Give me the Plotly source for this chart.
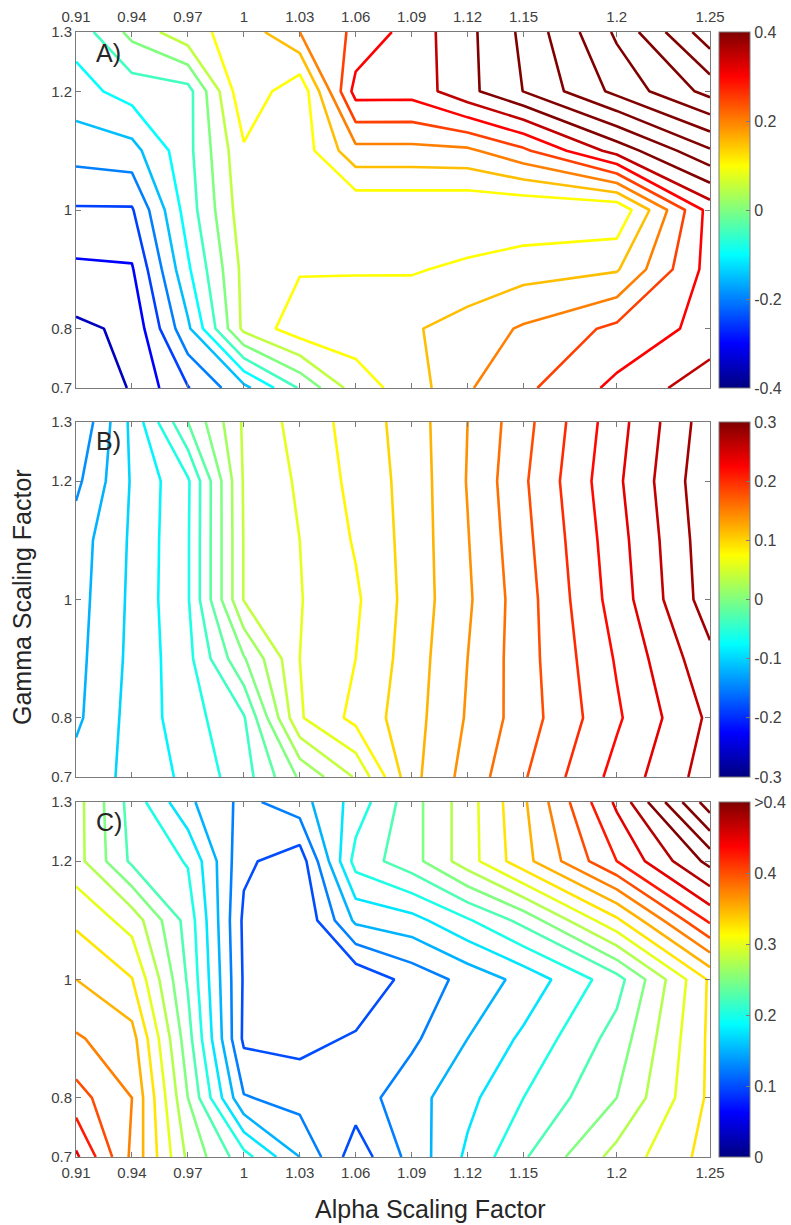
import plotly.graph_objects as go

# ---------------- data ----------------
alpha = [0.91, 0.94, 0.97, 1.00, 1.03, 1.06, 1.09, 1.12, 1.15, 1.20, 1.25]
gamma = [0.7, 0.8, 0.9, 1.0, 1.1, 1.2, 1.3]
alpha_labels = ["0.91", "0.94", "0.97", "1", "1.03", "1.06", "1.09", "1.12", "1.15", "1.2", "1.25"]
gamma_ticks = [0.7, 0.8, 1.0, 1.2, 1.3]
gamma_labels = ["0.7", "0.8", "1", "1.2", "1.3"]

# Panel A (rows = gamma 0.7 ... 1.3)
zA_g070 = [-0.40, -0.345, -0.253, -0.165, -0.045, 0.075, 0.125, 0.195, 0.239, 0.313, 0.38]
zA_g080 = [-0.36, -0.34, -0.16, 0.063, 0.128, 0.126, 0.144, 0.173, 0.206, 0.262, 0.318]
zA_g090 = [-0.31, -0.305, -0.108, 0.065, 0.096, 0.097, 0.095, 0.111, 0.130, 0.145, 0.32]
zA_g100 = [-0.255, -0.255, -0.076, 0.08, 0.075, 0.058, 0.058, 0.055, 0.055, 0.058, 0.32]
zA_g110 = [-0.18, -0.168, -0.065, 0.093, 0.07, 0.185, 0.185, 0.19, 0.24, 0.37, 0.494]
zA_g120 = [-0.12, -0.079, -0.069, 0.141, 0.06, 0.32, 0.319, 0.386, 0.451, 0.564, 0.667]
zA_g130 = [-0.08, 0.015, 0.085, 0.12, 0.2, 0.26, 0.322, 0.387, 0.461, 0.609, 0.783]

# Panel B
zB_g070 = [-0.112, -0.095, -0.075, -0.049, 0.003, 0.042, 0.114, 0.148, 0.178, 0.227, 0.27]
zB_g080 = [-0.124, -0.093, -0.069, -0.042, 0.058, 0.086, 0.112, 0.142, 0.17, 0.217, 0.264]
zB_g090 = [-0.126, -0.095, -0.066, -0.002, 0.06, 0.08, 0.11, 0.14, 0.171, 0.222, 0.275]
zB_g100 = [-0.128, -0.096, -0.062, 0.041, 0.059, 0.077, 0.108, 0.137, 0.171, 0.229, 0.291]
zB_g110 = [-0.13, -0.097, -0.062, 0.041, 0.06, 0.082, 0.108, 0.139, 0.174, 0.232, 0.293]
zB_g120 = [-0.145, -0.098, -0.063, 0.042, 0.063, 0.086, 0.108, 0.141, 0.177, 0.236, 0.296]
zB_g130 = [-0.16, -0.095, -0.02, 0.043, 0.068, 0.088, 0.11, 0.14, 0.173, 0.232, 0.292]

# Panel C
zC_g070 = [0.455, 0.37, 0.27, 0.21, 0.15, 0.085, 0.134, 0.18, 0.222, 0.284, 0.335]
zC_g080 = [0.41, 0.375, 0.25, 0.127, 0.115, 0.113, 0.14, 0.168, 0.2, 0.25, 0.33]
zC_g090 = [0.378, 0.36, 0.235, 0.095, 0.092, 0.103, 0.12, 0.15, 0.18, 0.235, 0.33]
zC_g100 = [0.35, 0.326, 0.222, 0.097, 0.085, 0.08, 0.109, 0.133, 0.158, 0.215, 0.329]
zC_g110 = [0.32, 0.29, 0.215, 0.095, 0.075, 0.155, 0.166, 0.197, 0.233, 0.32, 0.43]
zC_g120 = [0.285, 0.22, 0.198, 0.105, 0.085, 0.21, 0.24, 0.289, 0.341, 0.425, 0.508]
zC_g130 = [0.285, 0.215, 0.155, 0.118, 0.14, 0.185, 0.24, 0.289, 0.346, 0.455, 0.59]

zA = [zA_g070, zA_g080, zA_g090, zA_g100, zA_g110, zA_g120, zA_g130]
zB = [zB_g070, zB_g080, zB_g090, zB_g100, zB_g110, zB_g120, zB_g130]
zC = [zC_g070, zC_g080, zC_g090, zC_g100, zC_g110, zC_g120, zC_g130]

panel_labels = ["A)", "B)", "C)"]
cbar_ticks = [[-0.4, -0.2, 0, 0.2, 0.4], [-0.3, -0.2, -0.1, 0, 0.1, 0.2, 0.3], [0, 0.1, 0.2, 0.3, 0.4, 0.5]]
cbar_text = [["-0.4", "-0.2", "0", "0.2", "0.4"],
             ["-0.3", "-0.2", "-0.1", "0", "0.1", "0.2", "0.3"],
             ["0", "0.1", "0.2", "0.3", "0.4", ">0.4"]]
crange = [(-0.4, 0.4), (-0.3, 0.3), (0.0, 0.5)]
clevels = [(-0.35, 0.75, 0.05), (-0.14, 0.28, 0.02), (0.1, 0.6, 0.025)]

# ---------------- style ----------------
W, H = 791, 1225
ML, MR, MT, MB = 76, 81, 32, 68
PW, PH = W - ML - MR, H - MT - MB
panels_px = [(32, 388), (422, 777), (802, 1157)]  # top, bottom pixel rows


def jet(t):
    t = min(max(t, 0.0), 1.0)
    r = min(max(1.5 - abs(4 * t - 3), 0), 1)
    g = min(max(1.5 - abs(4 * t - 2), 0), 1)
    b = min(max(1.5 - abs(4 * t - 1), 0), 1)
    return "rgb(%d,%d,%d)" % (round(r * 255), round(g * 255), round(b * 255))


jet_scale = [[i / 64, jet(i / 64)] for i in range(65)]

GRAY = "#7a7a7a"
TXT = "#404040"
FONT = "Liberation Sans, Arial, sans-serif"

fig = go.Figure()
zs = [zA, zB, zC]
for k in range(3):
    sfx = "" if k == 0 else str(k + 1)
    zmin, zmax = crange[k]
    start, end, size = clevels[k]
    n = int(round((end - start) / size)) + 1
    levels = [start + i * size for i in range(n)]
    cs = [[i / (n - 1), jet((lv - zmin) / (zmax - zmin))] for i, lv in enumerate(levels)]
    fig.add_trace(go.Contour(
        x=alpha, y=gamma, z=zs[k], autocontour=False,
        contours=dict(start=start, end=end, size=size, coloring="lines"),
        colorscale=cs, showscale=False, line=dict(width=2.6, smoothing=0),
        xaxis="x" + sfx, yaxis="y" + sfx, hoverinfo="skip"))
    top, bot = panels_px[k]
    fig.add_trace(go.Scatter(
        x=[None], y=[None], mode="markers", showlegend=False,
        xaxis="x" + sfx, yaxis="y" + sfx,
        marker=dict(color=[zmin], cmin=zmin, cmax=zmax, colorscale=jet_scale, showscale=True,
                    colorbar=dict(x=(719 - ML) / PW, xanchor="left", xpad=0, ypad=0,
                                  y=(MT + PH - (top + bot) / 2) / PH, yanchor="middle",
                                  len=(bot - top) / PH, lenmode="fraction", thickness=31,
                                  outlinecolor=GRAY, outlinewidth=1,
                                  tickvals=cbar_ticks[k], ticktext=cbar_text[k],
                                  ticks="inside", ticklen=4, tickcolor=GRAY,
                                  tickfont=dict(family=FONT, size=16, color=TXT)))))

layout = dict(width=W, height=H, margin=dict(l=ML, r=MR, t=MT, b=MB, autoexpand=False),
              paper_bgcolor="white", plot_bgcolor="white", showlegend=False)
for k in range(3):
    sfx = "" if k == 0 else str(k + 1)
    top, bot = panels_px[k]
    ydom = [(MT + PH - bot) / PH, (MT + PH - top) / PH]
    layout["xaxis" + sfx] = dict(
        domain=[0, 1], anchor="y" + sfx, range=[0.91, 1.25], tickvals=alpha, ticktext=alpha_labels,
        side="top" if k == 0 else "bottom", showticklabels=(k != 1),
        ticks="inside", ticklen=5, tickcolor=GRAY, showline=True, linecolor=GRAY, linewidth=1,
        mirror="ticks", showgrid=False, zeroline=False, ticklabelstandoff=3 if k == 0 else 2,
        tickfont=dict(family=FONT, size=15, color=TXT))
    layout["yaxis" + sfx] = dict(
        domain=ydom, anchor="x" + sfx, range=[0.7, 1.3], tickvals=gamma_ticks, ticktext=gamma_labels,
        ticks="inside", ticklen=5, tickcolor=GRAY, showline=True, linecolor=GRAY, linewidth=1,
        mirror="ticks", showgrid=False, zeroline=False,
        tickfont=dict(family=FONT, size=15, color=TXT))
fig.update_layout(**layout)

label_y = [53, 441, 822]
for k in range(3):
    fig.add_annotation(text=panel_labels[k], xref="paper", yref="paper",
                       x=(94 - ML) / PW, y=(MT + PH - label_y[k]) / PH, xanchor="left", yanchor="middle",
                       showarrow=False, font=dict(family=FONT, size=25, color="#262626"))

fig.add_annotation(text="Gamma Scaling Factor", xref="paper", yref="paper",
                   x=(22 - ML) / PW, y=(MT + PH - 597) / PH, xanchor="center", yanchor="middle",
                   textangle=-90, showarrow=False, font=dict(family=FONT, size=25, color="#262626"))
fig.add_annotation(text="Alpha Scaling Factor", xref="paper", yref="paper",
                   x=(430 - ML) / PW, y=(MT + PH - 1209) / PH, xanchor="center", yanchor="middle",
                   showarrow=False, font=dict(family=FONT, size=25, color="#262626"))

fig.write_html("out.html")
